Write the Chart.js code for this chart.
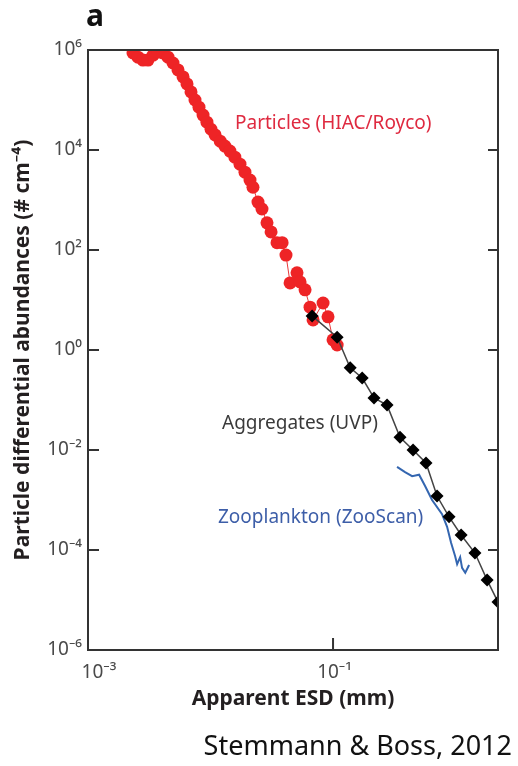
<!DOCTYPE html>
<html>
<head>
<meta charset="utf-8">
<script src="https://cdn.jsdelivr.net/npm/chart.js@4"></script>
<style>
  html, body { margin:0; padding:0; background:#fff; }
  #wrap { position:relative; width:518px; height:766px; font-family:"Noto Sans", sans-serif; }
  #chart { position:absolute; left:0; top:0; }
  .txt { position:absolute; white-space:nowrap; line-height:1; }
</style>
</head>
<body>
<div id="wrap">
  <canvas id="chart" width="518" height="766"></canvas>
  <div class="txt" style="left:86px; top:0px; font-size:30px; font-weight:700; color:#111">a</div>
  <div class="txt" style="left:235px; top:113px; font-size:19px; color:#df2a40">Particles (HIAC/Royco)</div>
  <div class="txt" style="left:222px; top:413px; font-size:19px; color:#3a3a3a">Aggregates (UVP)</div>
  <div class="txt" style="left:218px; top:507px; font-size:19px; color:#3d5ea8">Zooplankton (ZooScan)</div>
  <div class="txt" style="right:6px; top:731px; font-size:27px; color:#111">Stemmann &amp; Boss, 2012</div>
</div>
<script>
// Partikkelspekter: røde sirkler, svarte ruter, blå linje. Log-log.

const yTicks = [1e-6, 1e-4, 1e-2, 1, 1e2, 1e4, 1e6];
const yTickLabels = ["10⁻⁶", "10⁻⁴", "10⁻²", "10⁰", "10²", "10⁴", "10⁶"];
const xTicks = [1e-3, 1e-1];
const xTickLabels = ["10⁻³", "10⁻¹"];

const particleESD = [0.00233, 0.00256, 0.00281, 0.00309, 0.0034, 0.00373, 0.00409, 0.0045, 0.00494, 0.00543,
  0.00597, 0.00643, 0.00693, 0.00747, 0.00805, 0.00869, 0.00935, 0.0101, 0.0109, 0.012,
  0.0131, 0.0144, 0.0158, 0.0174, 0.0191, 0.021, 0.0222, 0.0244, 0.0263, 0.0289,
  0.0312, 0.0349, 0.0384, 0.0413, 0.0446, 0.0508, 0.0538, 0.0591, 0.0649, 0.0687,
  0.0829, 0.091, 0.1, 0.108];
const particleAbund = [8.7e5, 7.2e5, 6.3e5, 6.3e5, 7.9e5, 9.1e5, 8.7e5, 7.2e5, 5.5e5, 4.0e5,
  2.9e5, 2.1e5, 1.45e5, 1.0e5, 7.2e4, 5.0e4, 3.6e4, 2.6e4, 2.0e4, 1.5e4,
  1.2e4, 9.5e3, 7.2e3, 5.2e3, 3.6e3, 2.5e3, 1.8e3, 910, 660, 350,
  230, 140, 140, 79, 22, 35, 23, 16, 7.2, 4.0,
  8.7, 4.6, 1.6, 1.26];

const aggESD = [0.0675, 0.108, 0.138, 0.173, 0.216, 0.276, 0.352, 0.45, 0.574, 0.706, 0.885, 1.11, 1.44, 1.81, 2.22];
const aggAbund = [4.8, 1.8, 0.44, 0.275, 0.11, 0.079, 0.018, 0.01, 0.0055, 0.0012, 4.6e-4, 2.0e-4, 8.7e-5, 2.5e-5, 9.1e-6];

const zooESD = [0.333, 0.387, 0.442, 0.504, 0.564, 0.643, 0.776, 0.853, 0.919, 0.991, 1.03, 1.09, 1.13, 1.2, 1.29];
const zooAbund = [4.6e-3, 3.6e-3, 3.0e-3, 3.2e-3, 1.9e-3, 1.0e-3, 5.2e-4, 2.9e-4, 1.4e-4, 7.6e-5, 5.2e-5, 7.2e-5, 4.4e-5, 3.5e-5, 5.0e-5];

const pts = (xs, ys) => xs.map((x, i) => ({ x, y: ys[i] }));

Chart.defaults.font.family = "'Noto Sans', sans-serif";
Chart.defaults.color = "#4a4a4a";

// Ramme + innovervendte tick-merker.
const frame = {
  id: "frame",
  afterDraw(c) {
    const { ctx, chartArea: a, scales: { x, y } } = c;
    ctx.save();
    ctx.strokeStyle = "#333";
    ctx.lineWidth = 2;
    ctx.strokeRect(a.left, a.top, a.right - a.left, a.bottom - a.top);
    ctx.beginPath();
    yTicks.slice(1, -1).forEach((v) => {
      const py = y.getPixelForValue(v);
      ctx.moveTo(a.left, py); ctx.lineTo(a.left + 11, py);
      ctx.moveTo(a.right, py); ctx.lineTo(a.right - 10, py);
    });
    xTicks.slice(1).forEach((v) => {
      const px = x.getPixelForValue(v);
      ctx.moveTo(px, a.bottom); ctx.lineTo(px, a.bottom - 12);
    });
    ctx.stroke();
    ctx.restore();
  },
};

new Chart(document.getElementById("chart"), {
  type: "scatter",
  data: {
    datasets: [
      { label: "Aggregates (UVP)", data: pts(aggESD, aggAbund), showLine: true, order: 0,
        borderColor: "#444", borderWidth: 1.5, pointStyle: "rectRot", pointRadius: 6.5,
        pointBackgroundColor: "#000", pointBorderColor: "#000", pointBorderWidth: 0 },
      { label: "Zooplankton (ZooScan)", data: pts(zooESD, zooAbund), showLine: true, order: 1,
        borderColor: "#3466b0", borderWidth: 2, pointRadius: 0 },
      { label: "Particles (HIAC/Royco)", data: pts(particleESD, particleAbund), showLine: true, order: 2,
        borderColor: "#e8383a", borderWidth: 1, pointRadius: 6.5,
        pointBackgroundColor: "#ee2426", pointBorderColor: "#ee2426", pointBorderWidth: 0 },
    ],
  },
  options: {
    responsive: false, animation: false, devicePixelRatio: 1,
    layout: { padding: { left: 0, right: 20, top: 50, bottom: 0 } },
    plugins: { legend: { display: false }, tooltip: { enabled: false } },
    scales: {
      x: {
        type: "logarithmic", min: 1e-3, max: 2.22,
        grid: { display: false, drawTicks: false }, border: { display: false },
        afterBuildTicks: (ax) => { ax.ticks = xTicks.map((v) => ({ value: v })); },
        afterFit: (ax) => { ax.height = 116; },
        ticks: {
          font: { size: 19 }, color: "#4a4a4a", padding: 11, labelOffset: 1.5, maxRotation: 0, autoSkip: false,
          callback: (v) => {
            const i = xTicks.indexOf(v);
            return i === 0 ? "\u2002\u2002" + xTickLabels[i] : xTickLabels[i];
          },
        },
        title: { display: true, text: "Apparent ESD (mm)", color: "#231f20",
          font: { size: 21, weight: "bold" }, padding: { top: 0, bottom: 54 } },
      },
      y: {
        type: "logarithmic", min: 1e-6, max: 1e6,
        grid: { display: false, drawTicks: false }, border: { display: false },
        afterBuildTicks: (ax) => { ax.ticks = yTicks.map((v) => ({ value: v })); },
        afterFit: (ax) => { ax.width = 88; },
        ticks: {
          font: { size: 19 }, color: "#4a4a4a", padding: 6, autoSkip: false,
          callback: (v) => yTickLabels[yTicks.indexOf(v)],
        },
        title: { display: true, text: "Particle differential abundances (# cm⁻⁴)", color: "#231f20",
          font: { size: 21, weight: "bold" }, padding: { top: 10, bottom: 0 } },
      },
    },
  },
  plugins: [frame],
});
</script>
</body>
</html>
